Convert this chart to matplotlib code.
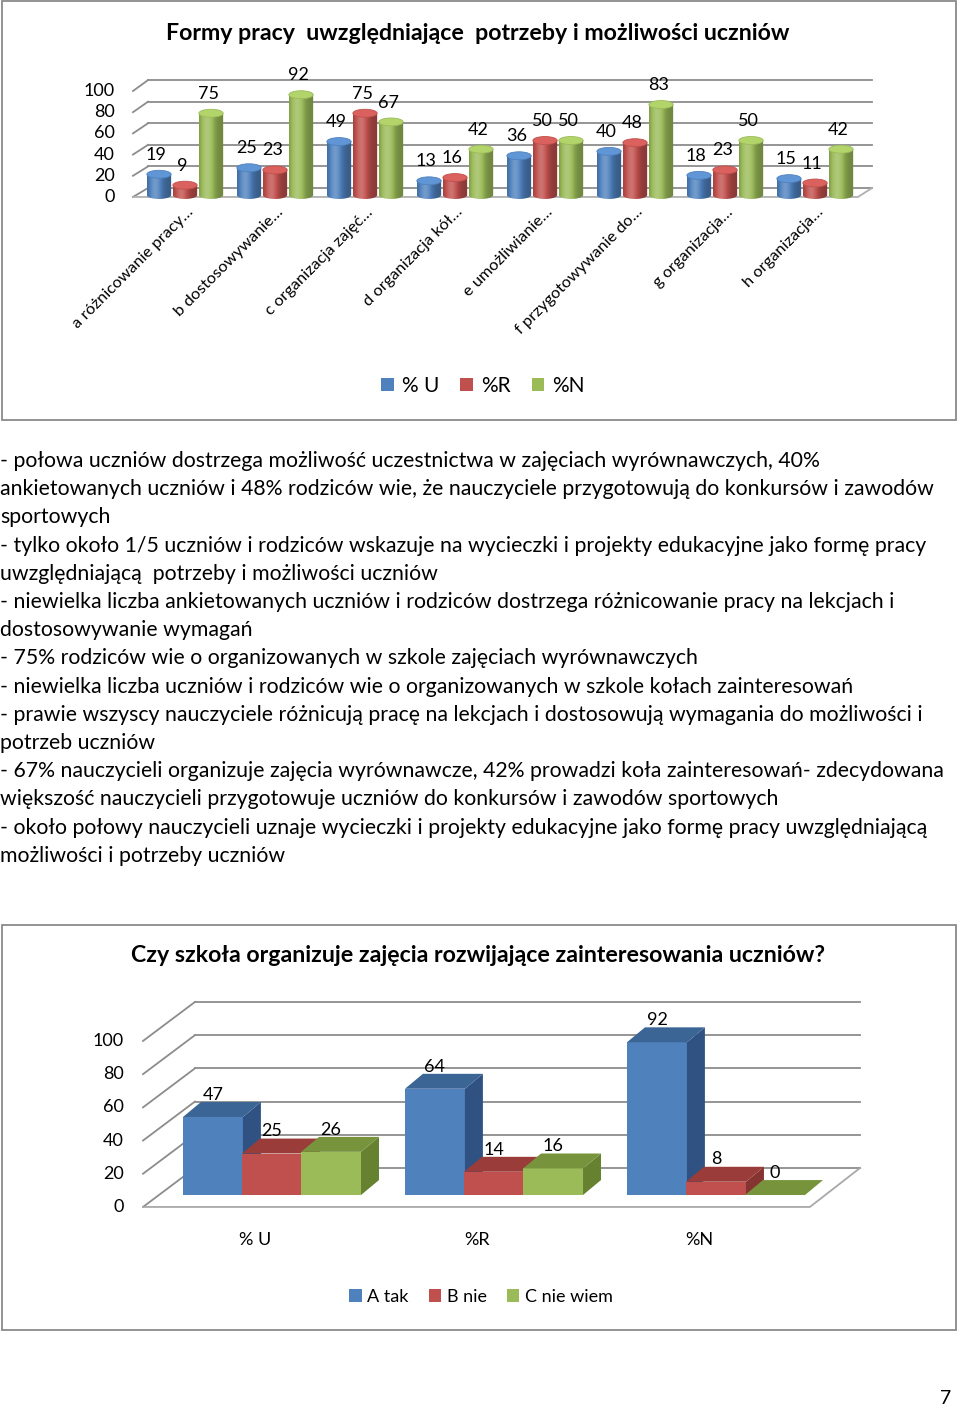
import numpy as np
import matplotlib.pyplot as plt
from matplotlib.patches import Ellipse, Polygon, Rectangle, Patch, PathPatch
from matplotlib.path import Path
import matplotlib.colors as mcolors

plt.rcParams['font.family'] = ['Lato', 'DejaVu Sans']

# ---- data: chart 1
title1 = 'Formy pracy  uwzględniające  potrzeby i możliwości uczniów'
cats1 = ['a różnicowanie pracy…', 'b dostosowywanie…', 'c organizacja zajęć…',
         'd organizacja kół…', 'e umożliwianie…', 'f przygotowywanie do…',
         'g organizacja…', 'h organizacja…']
series1 = ['% U', '%R', '%N']
u_vals = [19, 25, 49, 13, 36, 40, 18, 15]
r_vals = [9, 23, 75, 16, 50, 48, 23, 11]
n_vals = [75, 92, 67, 42, 50, 83, 50, 42]
yticks = [0, 20, 40, 60, 80, 100]

# ---- data: chart 2
title2 = 'Czy szkoła organizuje zajęcia rozwijające zainteresowania uczniów?'
groups2 = ['% U', '%R', '%N']
series2 = ['A tak', 'B nie', 'C nie wiem']
tak_vals = [47, 64, 92]
nie_vals = [25, 14, 8]
niewiem_vals = [26, 16, 0]

body = [
    '- połowa uczniów dostrzega możliwość uczestnictwa w zajęciach wyrównawczych, 40%',
    'ankietowanych uczniów i 48% rodziców wie, że nauczyciele przygotowują do konkursów i zawodów',
    'sportowych',
    '- tylko około 1/5 uczniów i rodziców wskazuje na wycieczki i projekty edukacyjne jako formę pracy',
    'uwzględniającą  potrzeby i możliwości uczniów',
    '- niewielka liczba ankietowanych uczniów i rodziców dostrzega różnicowanie pracy na lekcjach i',
    'dostosowywanie wymagań',
    '- 75% rodziców wie o organizowanych w szkole zajęciach wyrównawczych',
    '- niewielka liczba uczniów i rodziców wie o organizowanych w szkole kołach zainteresowań',
    '- prawie wszyscy nauczyciele różnicują pracę na lekcjach i dostosowują wymagania do możliwości i',
    'potrzeb uczniów',
    '- 67% nauczycieli organizuje zajęcia wyrównawcze, 42% prowadzi koła zainteresowań- zdecydowana',
    'większość nauczycieli przygotowuje uczniów do konkursów i zawodów sportowych',
    '- około połowy nauczycieli uznaje wycieczki i projekty edukacyjne jako formę pracy uwzględniającą',
    'możliwości i potrzeby uczniów',
]

colors = ['#4F81BD', '#C0504D', '#9BBB59']
tops2 = ['#3B6595', '#9A3C39', '#77933C']
sides2 = ['#2F5283', '#853431', '#66812F']
grid_c = '#8C8C8C'

W, H = 960, 1408
fig = plt.figure(figsize=(W / 100, H / 100), dpi=100)


def shade_img(color):
    base = np.array(mcolors.to_rgb(color))
    t = np.linspace(0, 1, 64)
    f = 0.72 + 0.5 * np.exp(-((t - 0.33) / 0.28) ** 2)
    rgb = []
    for v in f:
        if v <= 1:
            rgb.append(base * v)
        else:
            rgb.append(base + (1 - base) * (v - 1) * 0.9)
    return np.clip(np.array(rgb), 0, 1)[None, :, :]


# ================= chart 1 =================
ax1 = fig.add_axes([0, 1 - 420 / H, 1, 420 / H])
xl1 = (-185 / 90, (W - 185) / 90)
yl1 = ((195 - 420) / 1.09, 195 / 1.09)
ax1.axis('off')

wf, wb = -0.578, -0.411      # left wall front/back x
rf, rb = 7.478, 7.633        # floor right front/back x
for k in yticks:
    yf = -1.8 + 0.972 * k
    yb = 6.4 + 0.99 * k
    ax1.plot([wf, wb], [yf, yb], color=grid_c, lw=1.3, zorder=1)
    ax1.plot([wb, rb], [yb, yb], color=grid_c, lw=1.3, zorder=1)
    ax1.text(-0.778, yf, str(k), ha='right', va='center', fontsize=13)
ax1.plot([wf, rf, rb], [-1.8, -1.8, 6.4], color='#B0B0B0', lw=1.3, zorder=1)

pitch1, bw1, eh1 = 0.289, 0.27, 7.3
x1 = np.arange(len(cats1))
for j, vals in enumerate([u_vals, r_vals, n_vals]):
    xs = x1 + (j - 1) * pitch1
    bars = ax1.bar(xs, vals, width=bw1, color=colors[j], zorder=3 + j)
    img = shade_img(colors[j])
    for b, v in zip(bars, vals):
        cx = b.get_x() + bw1 / 2
        th = np.linspace(np.pi, 2 * np.pi, 40)
        verts = list(zip(cx + bw1 / 2 * np.cos(th), eh1 / 2 * np.sin(th)))
        verts += [(cx + bw1 / 2, v), (cx - bw1 / 2, v), verts[0]]
        outline = PathPatch(Path(verts, closed=True), transform=ax1.transData)
        im = ax1.imshow(img, extent=(cx - bw1 / 2, cx + bw1 / 2, -eh1 / 2, v),
                        aspect='auto', interpolation='bilinear', zorder=3 + j + 0.1)
        im.set_clip_path(outline)
        top_c = mcolors.to_rgb(colors[j])
        top_c = tuple(min(1, c * 1.08 + 0.04) for c in top_c)
        ax1.add_patch(Ellipse((cx, v), bw1, eh1, facecolor=top_c,
                              edgecolor=colors[j], lw=0.6, zorder=3 + j + 0.2))
        ax1.annotate(str(v), (cx, v), xytext=(-2, 14), textcoords='offset points',
                     ha='center', va='center', fontsize=13, zorder=10)

for i, c in enumerate(cats1):
    ax1.text(i + 0.01, -9.2, c, rotation=45, rotation_mode='anchor',
             ha='right', va='top', fontsize=11.8)
ax1.set_xlim(*xl1)
ax1.set_ylim(*yl1)

fig.text(478 / W, 1 - 33 / H, title1, ha='center', va='center',
         fontsize=16.7, fontweight='bold')
h1 = [Patch(facecolor=c, edgecolor='none') for c in colors]
fig.legend(h1, series1, loc='center', bbox_to_anchor=(483 / W, 1 - 386 / H),
           ncol=3, frameon=False, fontsize=15, handlelength=0.6, handleheight=0.6,
           handletextpad=0.4, columnspacing=1.0)

# ================= chart 2 =================
ax2 = fig.add_axes([0, 1 - 1330 / H, 1, 405 / H])
xl2 = (-272 / 222, (W - 272) / 222)
yl2 = ((1195 - 1330) / 1.66, (1195 - 925) / 1.66)
ax2.axis('off')

wf2, wb2 = -0.581, -0.347
rf2, rb2 = 2.423, 2.649
ff2, fb2 = -7.2, 16.3
for k in yticks:
    ax2.plot([wf2, wb2], [ff2 + k, fb2 + k], color=grid_c, lw=1.3, zorder=1)
    ax2.plot([wb2, rb2], [fb2 + k, fb2 + k], color=grid_c, lw=1.3, zorder=1)
    ax2.text(-0.667, ff2 + k, str(k), ha='right', va='center', fontsize=13)
ax2.plot([wf2, rf2, rb2], [ff2, ff2, fb2], color='#A8A8A8', lw=1.3, zorder=1)

pitch2, bw2, dx2, dy2 = 0.266, 0.27, 0.081, 9.0
x2 = np.arange(len(groups2))
for j, vals in enumerate([tak_vals, nie_vals, niewiem_vals]):
    xs = x2 + (j - 1) * pitch2
    bars = ax2.bar(xs, vals, width=bw2, color=colors[j], zorder=3 + j, linewidth=0)
    for b, v in zip(bars, vals):
        x0 = b.get_x()
        ax2.add_patch(Polygon([(x0 + bw2, 0), (x0 + bw2 + dx2, dy2),
                               (x0 + bw2 + dx2, v + dy2), (x0 + bw2, v)],
                              closed=True, facecolor=sides2[j], lw=0, zorder=3 + j))
        ax2.add_patch(Polygon([(x0, v), (x0 + bw2, v), (x0 + bw2 + dx2, v + dy2),
                               (x0 + dx2, v + dy2)],
                              closed=True, facecolor=tops2[j], lw=0, zorder=3 + j))
        ax2.annotate(str(v), (x0 + bw2 / 2, v), xytext=(0, 16), textcoords='offset points',
                     ha='center', va='center', fontsize=13, zorder=10)

for i, g in enumerate(groups2):
    ax2.text(i - 0.077, -27, g, ha='center', va='center', fontsize=13)
ax2.set_xlim(*xl2)
ax2.set_ylim(*yl2)

fig.text(478 / W, 1 - 956 / H, title2, ha='center', va='center',
         fontsize=16.7, fontweight='bold')
h2 = [Patch(facecolor=c, edgecolor='none') for c in colors]
fig.legend(h2, series2, loc='center', bbox_to_anchor=(481 / W, 1 - 1297 / H),
           ncol=3, frameon=False, fontsize=13, handlelength=0.7, handleheight=0.7,
           handletextpad=0.3, columnspacing=1.1)

# frames round the charts
for top, bot in [(1, 420), (925, 1330)]:
    fig.add_artist(Rectangle((2 / W, 1 - bot / H), 954 / W, (bot - top) / H,
                             transform=fig.transFigure, fill=False,
                             edgecolor='#8A8A8A', lw=1.3))

# body text
for n, line in enumerate(body):
    fig.text(0.5 / W, 1 - (461 + 28.2 * n) / H, line, ha='left', va='center', fontsize=15.3)

fig.text(946 / W, 1 - 1398 / H, '7', ha='center', va='center', fontsize=14)

fig.savefig('out.png', dpi=100)
